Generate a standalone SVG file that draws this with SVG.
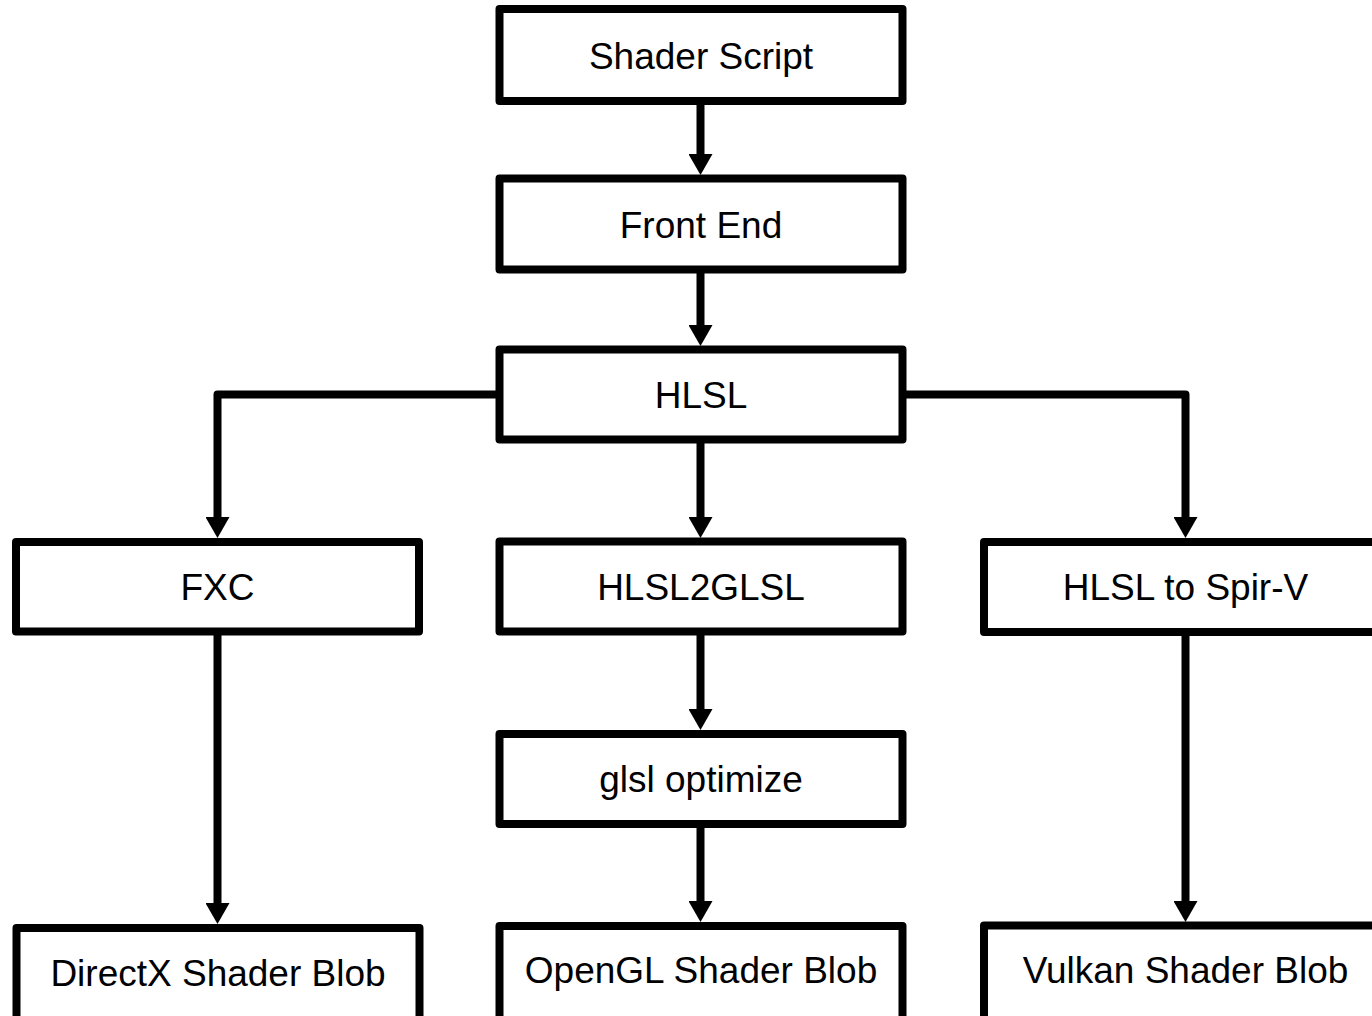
<svg xmlns="http://www.w3.org/2000/svg" width="1372" height="1016" viewBox="0 0 1372 1016">
<style>
.box{fill:#fff;stroke:#000;stroke-width:8;stroke-linejoin:round}
.lbl{font-family:"Liberation Sans",Arial,sans-serif;font-size:37px;fill:#000;text-anchor:middle}
.edge{fill:none;stroke:#000;stroke-width:8;stroke-linejoin:round;marker-end:url(#ah)}
</style>
<defs>
<marker id="ah" markerUnits="userSpaceOnUse" viewBox="0 0 21 24" markerWidth="21" markerHeight="24" refX="0" refY="12" orient="auto">
<path d="M0,0 L21,12 L0,24 z" fill="#000"/>
</marker>
</defs>
<rect width="1372" height="1016" fill="#fff"/>
<g id="connectors">
<path class="edge" d="M700.5,101 V154"/>
<path class="edge" d="M700.5,270 V325"/>
<path class="edge" d="M499.5,394.5 H217.5 V517"/>
<path class="edge" d="M700.5,439.5 V517"/>
<path class="edge" d="M902.5,394.5 H1185.5 V517"/>
<path class="edge" d="M217.5,631.5 V903"/>
<path class="edge" d="M700.5,631.5 V709"/>
<path class="edge" d="M700.5,824 V901"/>
<path class="edge" d="M1185.5,632 V901"/>
</g>
<g id="shader-script"><rect class="box" x="499.5" y="9" width="403" height="92"/><text class="lbl" x="701" y="69">Shader Script</text></g>
<g id="front-end"><rect class="box" x="499.5" y="178.5" width="403" height="91"/><text class="lbl" x="701" y="238">Front End</text></g>
<g id="hlsl"><rect class="box" x="499.5" y="349.5" width="403" height="90"/><text class="lbl" x="701" y="408">HLSL</text></g>
<g id="fxc"><rect class="box" x="16" y="542" width="403" height="89.5"/><text class="lbl" x="217.5" y="600">FXC</text></g>
<g id="hlsl2glsl"><rect class="box" x="499.5" y="541.5" width="403" height="90"/><text class="lbl" x="701" y="600">HLSL2GLSL</text></g>
<g id="hlsl-to-spirv"><rect class="box" x="984" y="542" width="403" height="90"/><text class="lbl" x="1185.5" y="600">HLSL to Spir-V</text></g>
<g id="glsl-optimize"><rect class="box" x="499.5" y="734" width="403" height="90"/><text class="lbl" x="701" y="792">glsl optimize</text></g>
<g id="directx-blob"><rect class="box" x="16.5" y="928" width="403" height="96"/><text class="lbl" x="218" y="986">DirectX Shader Blob</text></g>
<g id="opengl-blob"><rect class="box" x="499.5" y="926" width="403" height="96"/><text class="lbl" x="701" y="983">OpenGL Shader Blob</text></g>
<g id="vulkan-blob"><rect class="box" x="984" y="925.5" width="403" height="96"/><text class="lbl" x="1185.5" y="983">Vulkan Shader Blob</text></g>
</svg>
